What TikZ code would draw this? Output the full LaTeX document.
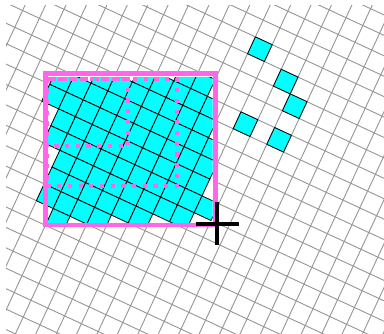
\documentclass[tikz,border=0pt]{standalone}
\definecolor{gridgray}{RGB}{150,150,150}
\definecolor{selpink}{RGB}{255,102,232}
\definecolor{tilecyan}{RGB}{0,255,255}
\tikzset{
  gridline/.style={draw=gridgray, line width=0.9pt},
  tile/.style={fill=tilecyan, draw=black, line width=0.8pt},
  selbox/.style={draw=selpink, line width=4.8pt},
  dotbox/.style={draw=selpink, line width=4pt, dash pattern=on 4.2pt off 6.5pt},
  cursorbar/.style={draw=black, line width=4.4pt},
  gridcoords/.style={shift={(255.4,36.9)}, x={(16.8pt,-7.8pt)}, y={(-7.8pt,-16.8pt)}}
}
\begin{document}
\begin{tikzpicture}[x=1pt,y=-1pt]
\useasboundingbox (0,0) rectangle (384,334);
\fill[white] (0,0) rectangle (384,334);
% background grid
\begin{scope}
  \clip (6,6) rectangle (384,334);
  \begin{scope}[gridcoords]
    \foreach \k in {-15,...,15} { \draw[gridline] (\k,-6) -- (\k,22); }
    \foreach \k in {-6,...,22} { \draw[gridline] (-15,\k) -- (15,\k); }
  \end{scope}
\end{scope}
% selection area background
\fill[white] (45.8,73.5) rectangle (215.5,225);
% selected tiles
\begin{scope}
  \clip (0,77.7) rectangle (212.7,225.5);
  \begin{scope}[gridcoords]
    \foreach \j/\a/\b in {3/-3/-2, 4/-5/-1, 5/-7/-1, 6/-9/0, 7/-9/0, 8/-8/0, 9/-8/1, 10/-7/0, 11/-7/-2, 12/-7/-4, 13/-6/-6} {
      \foreach \i in {\a,...,\b} { \filldraw[tile] (\i,\j) -- ++(1,0) -- ++(0,1) -- ++(-1,0) -- cycle; }
    }
  \end{scope}
\end{scope}
% isolated tiles
\begin{scope}[gridcoords]
  \foreach \i/\j in {0/0, 2/1, 3/2, 1/4, 3/4} { \filldraw[tile] (\i,\j) -- ++(1,0) -- ++(0,1) -- ++(-1,0) -- cycle; }
\end{scope}
% dotted rectangles
\draw[dotbox] (47.2,78.7) rectangle (128.2,146.5);
\draw[dotbox] (47.2,78.7) rectangle (177,186.5);
% selection rectangle
\draw[selbox] (45.8,73.5) rectangle (215.5,225);
% cursor
\coordinate (curL) at (196,224);
\coordinate (curR) at (238.7,224);
\coordinate (curT) at (217,202);
\coordinate (curB) at (217,245.3);
\draw[cursorbar] (curL) -- (curR);
\draw[cursorbar] (curT) -- (curB);
\end{tikzpicture}
\end{document}
